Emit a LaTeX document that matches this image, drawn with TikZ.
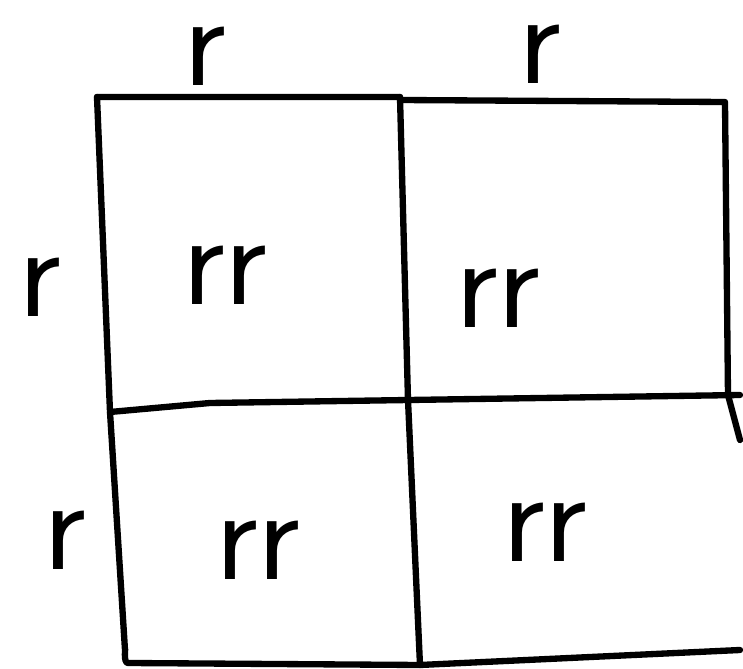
\documentclass[tikz,border=0pt]{standalone}
\begin{document}
\begin{tikzpicture}[x=0.1mm,y=-0.1mm,line width=1.8pt,line join=round,line cap=round,
    allele/.style={font=\sffamily\fontsize{38}{38}\selectfont,inner sep=0pt}]
            \useasboundingbox (0,0) rectangle (743,669);

            % corners of the square
            \coordinate (tl) at (97,97);
            \coordinate (tm) at (400,97);
            \coordinate (tr) at (725,102);
            \coordinate (ml) at (110,412);
            \coordinate (mm) at (408,400);
            \coordinate (mr) at (740,395);
            \coordinate (bl) at (128,663);
            \coordinate (bm) at (420,665);
            \coordinate (br) at (740,650);

            \draw (tl) -- (tm) -- (400,100) -- (tr) -- (728,395) -- (740,440);
            \draw (tl) -- (ml) -- (125,650) to[out=80,in=180] (bl) -- (bm) -- (br);
            \draw (tm) -- (mm) -- (bm);
            \draw (ml) -- (210,403) -- (mr);

            % gametes
            \node[allele] (p1) at (205,56) {r};
            \node[allele] (p2) at (540,54) {r};
            \node[allele] (m1) at (40,287) {r};
            \node[allele] (m2) at (65,540) {r};

            % offspring
            \node[allele] (c11) at (225,275) {rr};
            \node[allele] (c12) at (498,298) {rr};
            \node[allele] (c21) at (258,550) {rr};
            \node[allele] (c22) at (545,532) {rr};
        \end{tikzpicture}
\end{document}
